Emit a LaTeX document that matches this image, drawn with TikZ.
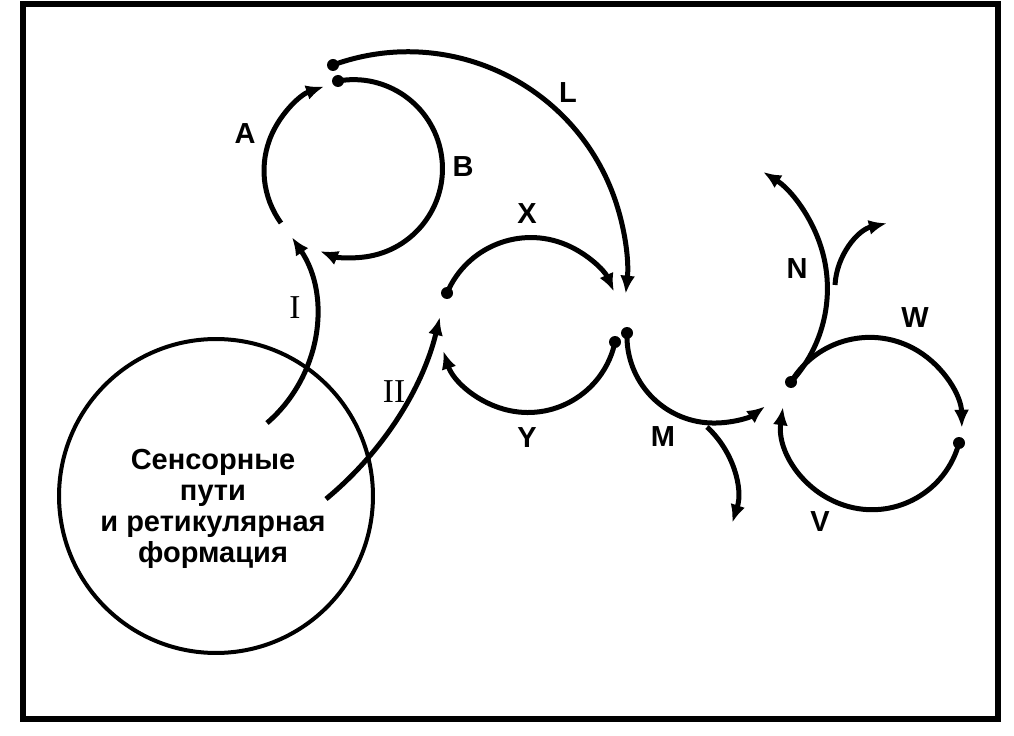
\documentclass[tikz,border=0pt]{standalone}
\usepackage{fontspec}
\setmainfont{Liberation Serif}
\setsansfont{Liberation Sans}
\usetikzlibrary{positioning}
\usetikzlibrary{arrows.meta}
\tikzset{x=0.02cm, y=-0.02cm, % One unit is one pixel of the figure, y runs downwards
pathway/.style={ % Sets the properties for each arc
draw,
-{Latex[length=0.36cm,width=0.3cm]}, % Filled arrow heads
line width=0.1cm},
junction/.style={ % Dots where the arcs start
circle, fill, inner sep=0pt, minimum size=0.24cm},
hub/.style={ % The big circle
draw, circle, line width=0.08cm, inner sep=0pt, minimum size=6.28cm},
caption/.style={align=center, inner sep=0pt,
font=\sffamily\bfseries\fontsize{16.5}{17.6}\selectfont},
letter/.style={inner sep=0pt, font=\sffamily\bfseries\fontsize{16.5}{17}\selectfont},
numeral/.style={inner sep=0pt, font=\rmfamily\fontsize{19}{19}\selectfont}}

\begin{document}
\begin{tikzpicture}
	\useasboundingbox (0,0) rectangle (1014,736);
	\draw[line width=0.12cm] (23,4) rectangle (998,719);

	\node[hub] (sens) at (216,496) {};
	\node[caption] (senstext) at (213,509) {Сенсорные\\пути\\и ретикулярная\\формация};

	\node[junction] (dotL) at (333,65) {};
	\node[junction] (dotB) at (338,81) {};
	\node[junction] (dotX) at (447,293) {};
	\node[junction] (dotY) at (615,342) {};
	\node[junction] (dotM) at (627,333) {};
	\node[junction] (dotW) at (791,382) {};
	\node[junction] (dotV) at (959,443) {};

	\coordinate (startA) at (281,223);
	\coordinate (startI) at (267,423);
	\coordinate (startII) at (326,499);
	\coordinate (startM) at (707,427);
	\coordinate (startN) at (835,285);

	\draw[pathway] (startA) arc[start angle=144, end angle=251, radius=89];
	\draw[pathway] (dotB.center) arc[start angle=260, end angle=472, radius=89];
	\draw[pathway] (dotL.center) arc[start angle=250, end angle=366, radius=219];
	\draw[pathway] (startI) arc[start angle=49.3, end angle=-34, radius=141];
	\draw[pathway] (startII) arc[start angle=50.5, end angle=13.6, radius=339];
	\draw[pathway] (dotX.center) arc[start angle=203, end angle=336, radius=91];
	\draw[pathway] (dotY.center) arc[start angle=12, end angle=162, radius=89];
	\draw[pathway] (dotM.center) arc[start angle=182, end angle=54, radius=87];
	\draw[pathway] (startM) arc[start angle=-47.5, end angle=18, radius=91.5];
	\draw[pathway] (dotW.center) arc[start angle=211, end angle=359, radius=92];
	\draw[pathway] (dotV.center) arc[start angle=15, end angle=188, radius=90];
	\draw[pathway] (dotW.center) arc[start angle=42.6, end angle=-57.7, radius=138];
	\draw[pathway] (startN) arc[start angle=183, end angle=257, radius=67];

	\node[letter] (lA) at (245,134) {A};
	\node[letter] (lB) at (463,167) {B};
	\node[letter] (lL) at (568,93) {L};
	\node[letter] (lX) at (527,214) {X};
	\node[letter] (lY) at (527,438) {Y};
	\node[letter] (lM) at (663,437) {M};
	\node[letter] (lN) at (797,269) {N};
	\node[letter] (lW) at (915,318) {W};
	\node[letter] (lV) at (820,522) {V};
	\node[numeral] (lI) at (295,308) {I};
	\node[numeral] (lII) at (394,392) {II};
\end{tikzpicture}
\end{document}
